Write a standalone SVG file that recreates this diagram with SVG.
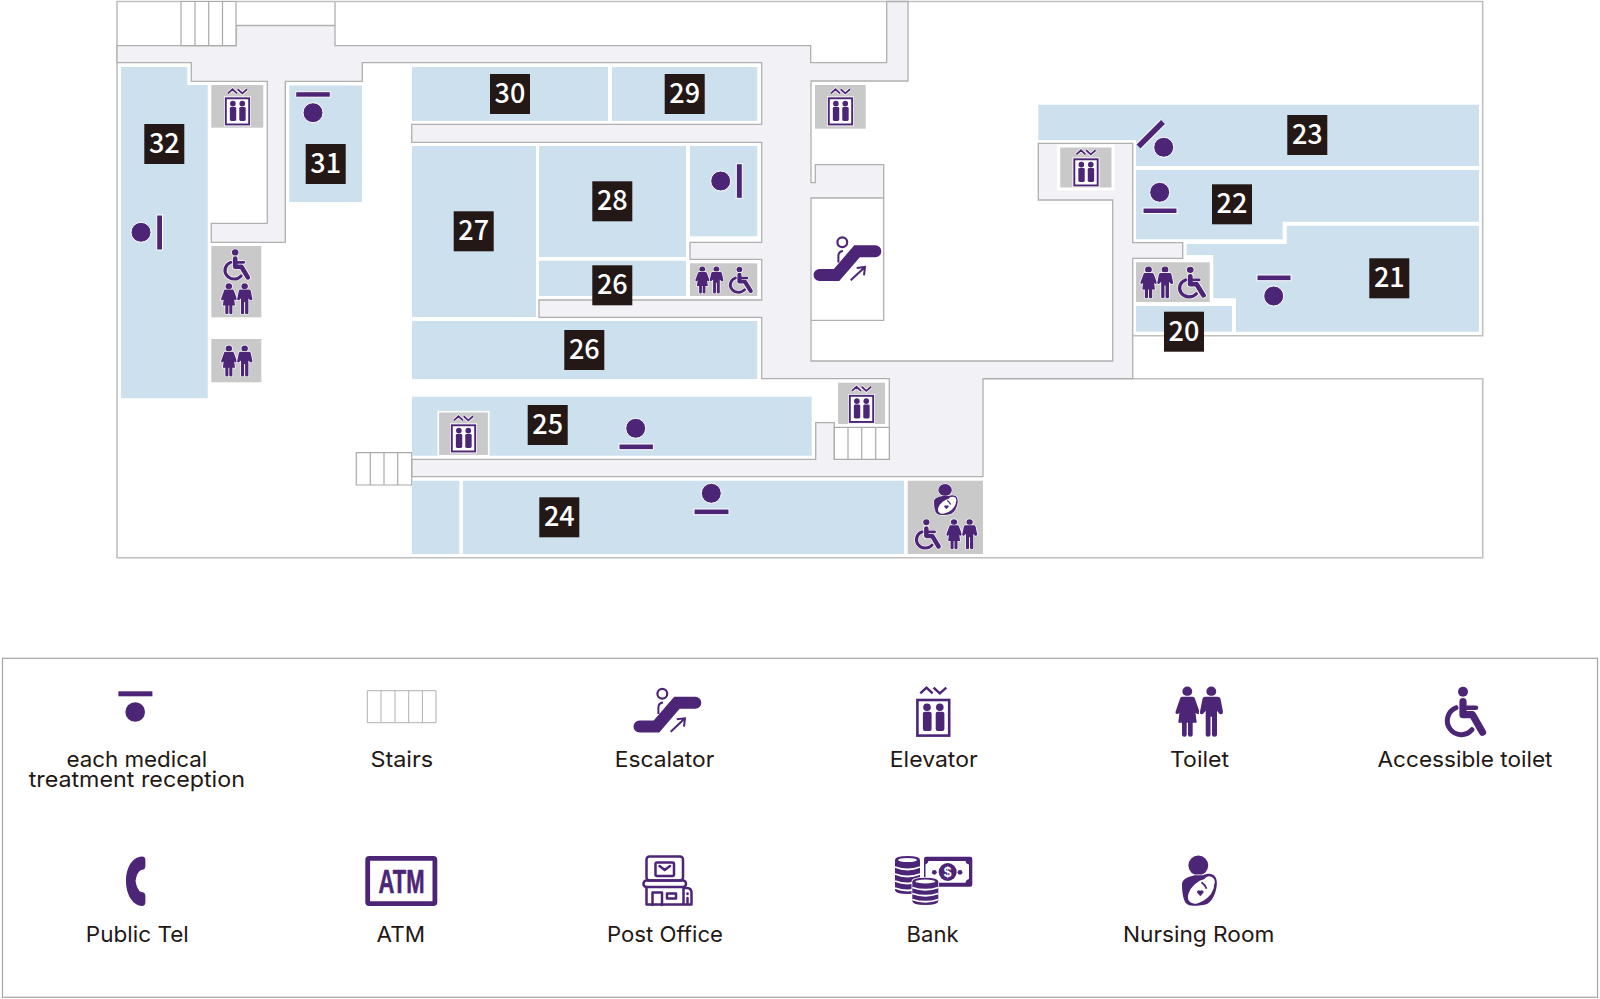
<svg xmlns="http://www.w3.org/2000/svg" xmlns:xlink="http://www.w3.org/1999/xlink" width="1600" height="999" viewBox="0 0 1600 999">
<style>
.room{fill:#cde0ee;stroke:none}
.box{fill:#c9c9c9}
.num rect{fill:#231815}
.num text{font-family:"Noto Sans CJK JP","Noto Sans",sans-serif;font-weight:500;font-size:27px;fill:#fff;text-anchor:middle}
.wall{fill:none;stroke:#c0c0c0;stroke-width:1.6}
.corr{fill:#f2f1f6;stroke:#b0b0b0;stroke-width:1.3}
.st{fill:#fff;stroke:#aaa;stroke-width:1.2}
.bar{fill:#4d2577;stroke:#fff;stroke-width:1}
.lg{font-family:Inter,"Liberation Sans",sans-serif;font-size:22px;fill:#231815;text-anchor:middle}
.p{fill:#4d2577}
.ps{fill:none;stroke:#4d2577;stroke-linecap:round;stroke-linejoin:round}
</style>
<defs>
<g id="ic-toilet">
<g fill="#4d2577" stroke="#fff" stroke-width="2" paint-order="stroke">
<circle cx="12.3" cy="4.7" r="4.9"/><circle cx="36.3" cy="4.7" r="4.9"/>
<path d="M7 10H17.5Q19.5 10 20 12L24.3 24.5Q25 27 23 27.3Q21.7 27.5 20.5 26L21.7 36H17.7V48Q17.7 50 15.5 50Q13 50 13 48V36H11.7V48Q11.7 50 9.3 50Q7 50 7 48V36H3.3L4.4 26Q3.3 27.5 2 27.3Q0 27 .7 24.5L5 12Q5.5 10 7 10Z"/>
<path d="M30 10H42.5Q45 10 45.5 12L48 25Q48 27.5 46 27.5Q44.5 27.5 43.5 26L42 24V48Q42 50 39.5 50Q37 50 37 48V30H35.5V48Q35.5 50 33 50Q30.7 50 30.7 48V24L29 26Q28 27.5 26.3 27.5Q24.5 27 25 25L27.5 12Q28 10 30 10Z"/>
</g>
</g>
<g id="ic-wheel">
<g fill="none" stroke="#fff" stroke-linecap="round" stroke-linejoin="round">
<circle cx="18" cy="5" r="6" fill="#fff" stroke="none"/>
<path d="M18 15V28H27.5L37.5 45.5" stroke-width="9.5"/>
<path d="M18 21H31" stroke-width="6.5"/>
<path d="M11 21A14 14 0 1 0 27 43" stroke-width="7"/>
</g>
<circle cx="18" cy="5" r="5" fill="#4d2577"/>
<g fill="none" stroke="#4d2577" stroke-linecap="round" stroke-linejoin="round">
<path d="M18 15V28H27.5L37.5 45.5" stroke-width="7.2"/>
<path d="M18 21H31" stroke-width="4.5"/>
<path d="M11 21A14 14 0 1 0 27 43" stroke-width="5"/>
</g>
</g>
<g id="ic-ev">
<rect x="1.1" y="14" width="31.8" height="35.6" fill="#fff" stroke="#fff" stroke-width="5"/>
<path d="M4 7.3L10.2 1.7L16.3 7.3M17.3 1.7L23.5 7.3L30 1.7" fill="none" stroke="#fff" stroke-width="4.5"/>
<rect x="1.1" y="14" width="31.8" height="35.6" fill="#fff" stroke="#4d2577" stroke-width="2.6"/>
<path d="M4 7.3L10.2 1.7L16.3 7.3M17.3 1.7L23.5 7.3L30 1.7" fill="none" stroke="#4d2577" stroke-width="2.4"/>
<g fill="#4d2577"><circle cx="10.7" cy="21.3" r="3.8"/><circle cx="23.5" cy="21.3" r="3.8"/>
<rect x="6.6" y="25.7" width="8.7" height="19.3" rx="2"/><rect x="19.4" y="25.7" width="8.7" height="19.3" rx="2"/></g>
</g>
<g id="ic-nurse">
<circle cx="16.3" cy="9.7" r="9.9" fill="#4d2577" stroke="#fff" stroke-width="1.5" paint-order="stroke"/>
<path d="M12.7 19.5C5 21 0 24 0 28.5C0 36 1 43 3.7 47.3C6 49.5 8 50 11 50C17 50 22 49.5 25.5 48C31 44 33.5 38 34.7 30C35.5 25 34 20.5 31 19C28 17.5 25 17.7 21 19.5Z" fill="#4d2577" stroke="#fff" stroke-width="1.5" paint-order="stroke"/>
<ellipse cx="19" cy="35.5" rx="15.5" ry="9.3" transform="rotate(-42 19 35.5)" fill="#fff"/>
<circle cx="27.2" cy="26.2" r="5.6" fill="#fff"/>
<path d="M19.5 26.5Q23 29 24.5 33" fill="none" stroke="#4d2577" stroke-width="1.8"/>
<path d="M18.3 40.5L15 36.8A2 2 0 0 1 18.3 35A2 2 0 0 1 21.6 36.8Z" fill="#4d2577"/>
</g>
<g id="ic-esc">
<circle cx="662.3" cy="693.7" r="4.9" fill="#fff" stroke="#4d2577" stroke-width="2.2"/>
<path d="M658.4 714V707.5Q658.4 703 663 702.5" fill="#fff" stroke="#4d2577" stroke-width="2"/>
<path d="M639.5 726.5H656.5L677 702.7H695.3" fill="none" stroke="#4d2577" stroke-width="12" stroke-linecap="round"/>
<path d="M670.7 731.7L685 718.3M676.7 719.3L685 718.3L684 726.7" fill="none" stroke="#4d2577" stroke-width="2"/>
</g>
</defs>
<rect id="background" width="1600" height="999" fill="#fff"/>

<g id="floor-plan">
<path id="outer-wall" class="wall" d="M1132.7 335.7H1482.7V1.5H117V557.7H1482.7V378.7H983M335 1.5V25.5"/>
<path id="corridor" class="corr" d="M117 45.7H236V25.5H335V45.7H810.7V62.7H886.7V1.5H908V81H811V182.7H815.3V164.7H883.7V198H811V361H1112.7V200H1038.3V143.3H1132.7V242.7H1182.7V258.3H1132.7V378.7H983V476.7H411.7V459.3H815.7V422.7H834.3V459.3H889.3V378.7H761.7V317.3H539V300H761.7V259.3H690V242.3H761.7V142.3H411.7V124.3H761.7V62.7H362.3V81.3H285.3V242.3H211.3V223.3H267.3V81.3H191.3V62.7H117Z"/>
<path id="escalator-hall" d="M883.7 198V320.3H811" fill="none" stroke="#b0b0b0" stroke-width="1.3"/>
<path id="stairs-top" class="st" d="M181 1.5H236V45.7H181ZM195 1.5V45.7M208.7 1.5V45.7M222.5 1.5V45.7"/>
<path id="stairs-west" class="st" d="M356.3 452.7H411.7V485H356.3ZM370.3 452.7V485M384 452.7V485M397.7 452.7V485"/>
<path id="stairs-east" class="st" d="M834.3 427.3H889.3V459.3H834.3ZM848 427.3V459.3M861.7 427.3V459.3M875.7 427.3V459.3"/>
</g>

<g id="rooms">
<path id="room-32" class="room" d="M121 67H187.3V85H207.7V398.3H121Z"/>
<rect id="room-31" class="room" x="289.3" y="85.5" width="72.7" height="116.5"/>
<rect id="room-30" class="room" x="412" y="67" width="196" height="54"/>
<rect id="room-29" class="room" x="612" y="67" width="145.3" height="54"/>
<rect id="room-27" class="room" x="412" y="146" width="124" height="171"/>
<rect id="room-28" class="room" x="539" y="146" width="147" height="111"/>
<rect id="room-26a" class="room" x="539" y="260.7" width="147" height="35.3"/>
<rect id="room-reception" class="room" x="690" y="146" width="67.3" height="90.3"/>
<rect id="room-26b" class="room" x="412" y="321" width="345.3" height="58"/>
<rect id="room-25" class="room" x="412" y="396.7" width="399.7" height="59"/>
<rect id="room-24a" class="room" x="412" y="480.7" width="47.3" height="73.3"/>
<rect id="room-24b" class="room" x="463" y="480.7" width="441" height="73.3"/>
<path id="room-23" class="room" d="M1038.3 104.7H1479V166H1136V140H1038.3Z"/>
<path id="room-22" class="room" d="M1136 170H1479V221.7H1282.7V239.3H1136Z"/>
<path id="room-21" class="room" d="M1286.7 225.7H1479V331.7H1236V298.3H1213.3V255H1186.7V244H1286.7Z"/>
<rect id="room-20" class="room" x="1136" y="306" width="96" height="25.7"/>
</g>

<g id="service-boxes">
<rect class="box" x="211.3" y="85" width="52" height="42.7"/>
<rect class="box" x="815" y="85" width="50.7" height="43.7"/>
<rect class="box" x="838" y="382.7" width="47" height="41.3"/>
<rect class="box" x="438.3" y="411.7" width="50.4" height="44" stroke="#fff" stroke-width="1.6"/>
<rect class="box" x="1058.7" y="146" width="54.3" height="43" stroke="#fff" stroke-width="3"/>
<rect class="box" x="211.3" y="246" width="50" height="71.3"/>
<rect class="box" x="211.3" y="339" width="50" height="43.3"/>
<rect class="box" x="690" y="263.3" width="67.3" height="32.7"/>
<rect class="box" x="1136" y="262.3" width="73.7" height="39.7"/>
<rect class="box" x="907.7" y="480.7" width="75.3" height="73.3"/>
</g>

<g id="map-icons">
<use id="ev-1" href="#ic-ev" transform="translate(225 88) scale(.735)"/>
<use id="ev-2" href="#ic-ev" transform="translate(828 88) scale(.735)"/>
<use id="ev-3" href="#ic-ev" transform="translate(451 415) scale(.735)"/>
<use id="ev-4" href="#ic-ev" transform="translate(849 385.5) scale(.735)"/>
<use id="ev-5" href="#ic-ev" transform="translate(1073.5 149) scale(.735)"/>
<use id="wc-1" href="#ic-wheel" transform="translate(223.5 249.3) scale(.65 .62)"/>
<use id="wc-2" href="#ic-wheel" transform="translate(729 266.7) scale(.58 .535)"/>
<use id="wc-3" href="#ic-wheel" transform="translate(1178 266.7) scale(.68 .63)"/>
<use id="wc-4" href="#ic-wheel" transform="translate(915 519.3) scale(.63 .6)"/>
<use id="wc-t1" href="#ic-toilet" transform="translate(220.7 283.3) scale(.66 .62)"/>
<use id="wc-t2" href="#ic-toilet" transform="translate(220.7 345.5) scale(.66 .62)"/>
<use id="wc-t3" href="#ic-toilet" transform="translate(695 266.7) scale(.59 .535)"/>
<use id="wc-t4" href="#ic-toilet" transform="translate(1140 266.7) scale(.69 .63)"/>
<use id="wc-t5" href="#ic-toilet" transform="translate(946 519.3) scale(.65 .6)"/>
<use id="nursing-1" href="#ic-nurse" transform="translate(934 484) scale(.68 .62)"/>
<use id="esc-1" href="#ic-esc" transform="translate(180 -451.4)"/>
</g>

<g id="reception-marks">
<g id="rcp-32"><circle class="bar" cx="141" cy="232.3" r="10"/><rect class="bar" x="156.7" y="215" width="5.8" height="35"/></g>
<g id="rcp-31"><rect class="bar" x="295.7" y="91.7" width="34.6" height="5.5"/><circle class="bar" cx="313" cy="112.7" r="10"/></g>
<g id="rcp-x"><circle class="bar" cx="720.7" cy="181" r="10"/><rect class="bar" x="736.3" y="163.7" width="6" height="34.6"/></g>
<g id="rcp-25"><circle class="bar" cx="635.7" cy="428.3" r="10"/><rect class="bar" x="619" y="444" width="34.4" height="5.7"/></g>
<g id="rcp-24"><circle class="bar" cx="711.3" cy="493.3" r="10"/><rect class="bar" x="694" y="509" width="35" height="5.7"/></g>
<g id="rcp-23"><circle class="bar" cx="1163.7" cy="147.3" r="10"/><path d="M1138.5 146.5L1163 122" stroke="#fff" stroke-width="7.5"/><path d="M1138.5 146.5L1163 122" stroke="#4d2577" stroke-width="5.5"/></g>
<g id="rcp-22"><circle class="bar" cx="1159.7" cy="192.3" r="10"/><rect class="bar" x="1143" y="208" width="34" height="5.5"/></g>
<g id="rcp-21"><rect class="bar" x="1257" y="275" width="34" height="5.7"/><circle class="bar" cx="1273.7" cy="296" r="10"/></g>
</g>

<g id="room-numbers">
<g id="n32" class="num"><rect x="144.3" y="124" width="40" height="40"/><text x="164.3" y="153">32</text></g>
<g id="n31" class="num"><rect x="305.7" y="144" width="40" height="40"/><text x="325.7" y="173">31</text></g>
<g id="n30" class="num"><rect x="490" y="74" width="40" height="40"/><text x="510" y="103">30</text></g>
<g id="n29" class="num"><rect x="664.7" y="74" width="40" height="40"/><text x="684.7" y="103">29</text></g>
<g id="n27" class="num"><rect x="453.7" y="211.3" width="40" height="40"/><text x="473.7" y="240.3">27</text></g>
<g id="n28" class="num"><rect x="592.3" y="181.3" width="40" height="40"/><text x="612.3" y="210.3">28</text></g>
<g id="n26a" class="num"><rect x="592.3" y="265.3" width="40" height="40"/><text x="612.3" y="294.3">26</text></g>
<g id="n26b" class="num"><rect x="564.3" y="330" width="40" height="40"/><text x="584.3" y="359">26</text></g>
<g id="n25" class="num"><rect x="527.7" y="405" width="40" height="40"/><text x="547.7" y="434">25</text></g>
<g id="n24" class="num"><rect x="539.3" y="497.3" width="40" height="40"/><text x="559.3" y="526.3">24</text></g>
<g id="n23" class="num"><rect x="1287.3" y="115" width="40" height="40"/><text x="1307.3" y="144">23</text></g>
<g id="n22" class="num"><rect x="1212" y="184.3" width="40" height="40"/><text x="1232" y="213.3">22</text></g>
<g id="n21" class="num"><rect x="1369.3" y="258.3" width="40" height="40"/><text x="1389.3" y="287.3">21</text></g>
<g id="n20" class="num"><rect x="1164" y="311.7" width="40" height="40"/><text x="1184" y="340.7">20</text></g>
</g>

<g id="legend">
<rect id="legend-frame" x="2.5" y="658.3" width="1595" height="339" fill="#fff" stroke="#a5a5a5" stroke-width="1.2"/>
<g id="lg-reception"><rect class="p" x="118.4" y="691.3" width="34" height="5"/><circle class="p" cx="135.2" cy="712" r="9.8"/>
<text class="lg" x="136.8" y="767.3" textLength="140.8" lengthAdjust="spacingAndGlyphs">each medical</text><text class="lg" x="136.8" y="787.3" textLength="216.3" lengthAdjust="spacingAndGlyphs">treatment reception</text></g>
<g id="lg-stairs"><path d="M367.3 690.7H436V722.7H367.3ZM381 690.7V722.7M395 690.7V722.7M408.7 690.7V722.7M422.4 690.7V722.7" fill="none" stroke="#b0b0b0" stroke-width="1"/>
<text class="lg" x="401.8" y="767.3" textLength="62.8" lengthAdjust="spacingAndGlyphs">Stairs</text></g>
<g id="lg-escalator"><use href="#ic-esc"/><text class="lg" x="664.5" y="767.3" textLength="99.5" lengthAdjust="spacingAndGlyphs">Escalator</text></g>
<g id="lg-elevator"><use href="#ic-ev" transform="translate(916.3 686)"/><text class="lg" x="933.7" y="767.3" textLength="87.8" lengthAdjust="spacingAndGlyphs">Elevator</text></g>
<g id="lg-toilet"><use href="#ic-toilet" transform="translate(1175 686.7)"/><text class="lg" x="1199.5" y="767.3" textLength="59" lengthAdjust="spacingAndGlyphs">Toilet</text></g>
<g id="lg-accessible"><use href="#ic-wheel" transform="translate(1445 686.7)"/><text class="lg" x="1465" y="767.3" textLength="175" lengthAdjust="spacingAndGlyphs">Accessible toilet</text></g>
<g id="lg-tel"><path class="p" d="M145.4 860Q145.4 856.5 142 856.5C132 857 126 868 126 881C126 894 132 905 142 906Q145.4 906 145.4 902V896Q145.4 892 141 892Q137 890 135.5 881Q137 872 141 870Q145.4 870 145.4 866Z"/>
<text class="lg" x="137.3" y="942.3" textLength="103" lengthAdjust="spacingAndGlyphs">Public Tel</text></g>
<g id="lg-atm"><rect x="367.7" y="858.4" width="67.2" height="45.2" rx="1.5" fill="none" stroke="#4d2577" stroke-width="4.8"/>
<text x="401.5" y="892.7" font-family="Liberation Sans, sans-serif" font-weight="700" font-size="32.7" fill="#4d2577" stroke="#4d2577" stroke-width=".6" text-anchor="middle" textLength="46" lengthAdjust="spacingAndGlyphs">ATM</text>
<text class="lg" x="400.8" y="942.3" textLength="48.5" lengthAdjust="spacingAndGlyphs">ATM</text></g>
<g id="lg-post"><g class="ps" stroke-width="2.5">
<rect x="646.5" y="856.5" width="36.5" height="24" rx="3"/><rect x="655.5" y="862.5" width="18.5" height="13.5" rx="1.5"/><path d="M659.5 866L664.7 870L670 866"/>
<rect x="643.5" y="880.5" width="42.5" height="6.5" rx="3"/>
<path d="M646.5 887V904.5H691.5V893Q691.5 888 687 888H684M683.5 888V904"/>
<path d="M652.5 905V892.5H662V905"/><rect x="667" y="893.5" width="9" height="5"/><path d="M687.5 893.5V894M687.5 898V903"/></g>
<text class="lg" x="665" y="942.3" textLength="116" lengthAdjust="spacingAndGlyphs">Post Office</text></g>
<g id="lg-bank">
<rect class="p" x="924" y="856.7" width="48.3" height="30" rx="2"/>
<path d="M928.5 861H965.5Q966 864 969 864.5V879Q966 879.5 965.5 882.7H928.5Q928 879.5 925.5 879V864.5Q928 864 928.5 861Z" fill="#fff"/>
<circle class="p" cx="947.7" cy="872" r="9"/><circle class="p" cx="934.3" cy="872.3" r="2.4"/><circle class="p" cx="960" cy="872.3" r="2.4"/>
<text x="947.7" y="877" font-family="Liberation Sans, sans-serif" font-weight="700" font-size="14" fill="#fff" text-anchor="middle">$</text>
<path class="p" d="M895 860Q895 856 907.5 856Q920 856 920 860V890Q920 894 907.5 894Q895 894 895 890Z"/>
<ellipse cx="907.5" cy="860" rx="9.5" ry="2" fill="#fff"/>
<path d="M895 867Q907.5 872 920 867M895 874Q907.5 879 920 874M895 881Q907.5 886 920 881M895 888Q907.5 893 920 888" fill="none" stroke="#fff" stroke-width="1.8"/>
<path class="p" stroke="#fff" stroke-width="1.5" paint-order="stroke" d="M912.3 881.5Q912.3 877.7 925.3 877.7Q938.3 877.7 938.3 881.5V901Q938.3 905 925.3 905Q912.3 905 912.3 901Z"/>
<ellipse cx="925.3" cy="881.5" rx="10" ry="1.9" fill="#fff"/>
<path d="M912.3 887.5Q925.3 892 938.3 887.5M912.3 893.5Q925.3 898 938.3 893.5M912.3 899.5Q925.3 904 938.3 899.5" fill="none" stroke="#fff" stroke-width="1.8"/>
<text class="lg" x="932.6" y="942.3" textLength="52" lengthAdjust="spacingAndGlyphs">Bank</text></g>
<g id="lg-nursing"><use href="#ic-nurse" transform="translate(1182 855.7)"/><text class="lg" x="1198.7" y="942.3" textLength="151.5" lengthAdjust="spacingAndGlyphs">Nursing Room</text></g>
</g>
</svg>
